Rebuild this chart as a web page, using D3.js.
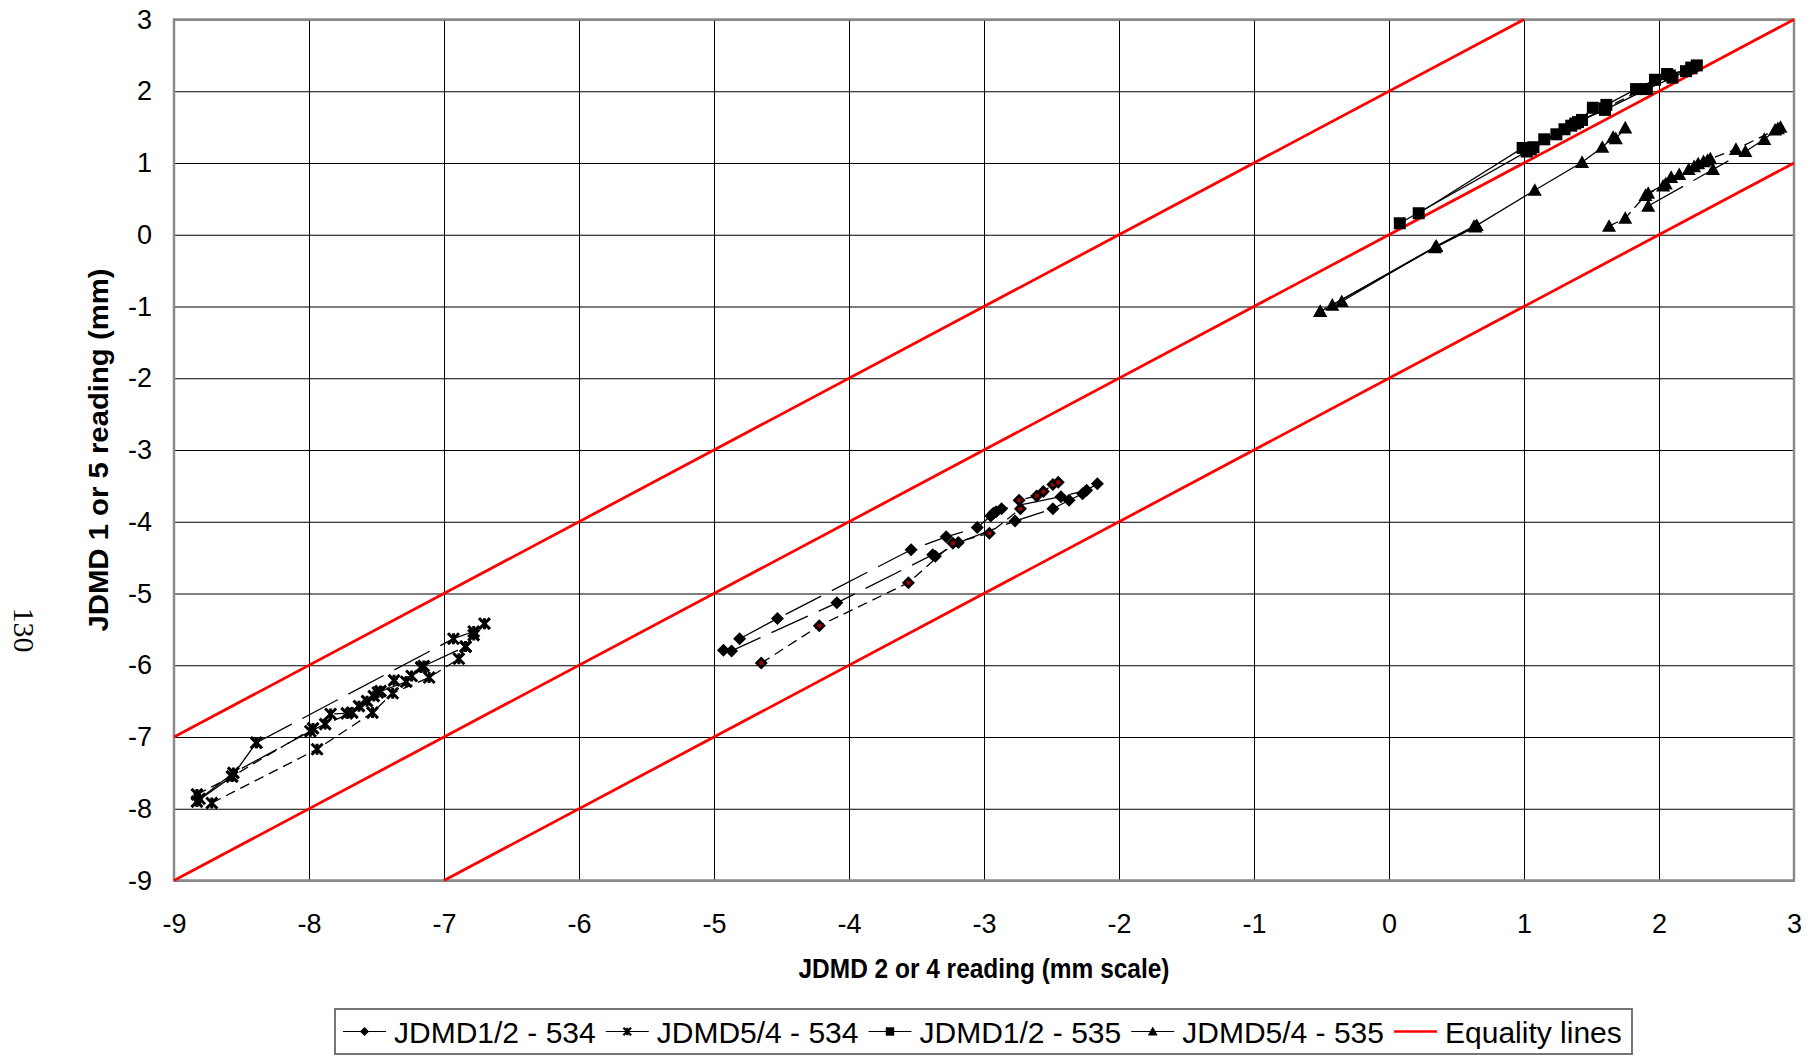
<!DOCTYPE html>
<html><head><meta charset="utf-8">
<script src="https://cdn.jsdelivr.net/npm/d3@7"></script>
<style>body{margin:0;background:#fff}</style></head>
<body><svg id="c" width="1819" height="1056"></svg>
<script>
// ---------------- data ----------------
const xTicks = [-9,-8,-7,-6,-5,-4,-3,-2,-1,0,1,2,3];
const yTicks = [-9,-8,-7,-6,-5,-4,-3,-2,-1,0,1,2,3];
const xTitle = "JDMD 2 or 4 reading (mm scale)";
const yTitle = "JDMD 1 or 5 reading (mm)";
const pageNumber = "130";
const seriesNames = ["JDMD1/2 - 534","JDMD5/4 - 534","JDMD1/2 - 535","JDMD5/4 - 535","Equality lines"];

// JDMD1/2 - 534 (diamonds)
const d12_534_runA = [[-4.81,-5.63],[-4.53,-5.35],[-3.54,-4.39],[-3.28,-4.21],[-3.05,-4.08],[-2.95,-3.92],[-2.93,-3.88],[-2.91,-3.86],[-2.87,-3.82],[-2.43,-3.65],[-2.24,-3.56],[-2.16,-3.47]];
const d12_534_runB = [[-4.93,-5.79],[-4.87,-5.80],[-4.09,-5.13],[-3.38,-4.46],[-3.36,-4.48],[-3.19,-4.29],[-2.77,-3.99],[-2.49,-3.82],[-2.37,-3.70],[-2.27,-3.61]];
const d12_534_runC = [[-4.65,-5.97],[-4.22,-5.45],[-3.56,-4.85],[-3.23,-4.30],[-2.96,-4.16],[-2.73,-3.82],[-2.74,-3.70],[-2.61,-3.64],[-2.56,-3.58],[-2.49,-3.48],[-2.45,-3.45]];

// JDMD5/4 - 534 (stars)
const s54_534_runA = [[-8.83,-7.90],[-8.57,-7.55],[-8.39,-7.08]];
const s54_534_runB = [[-8.39,-7.08],[-6.93,-5.63],[-6.78,-5.53],[-6.70,-5.42]];
const s54_534_runC = [[-8.81,-7.86],[-8.56,-7.50],[-7.99,-6.92],[-7.88,-6.82],[-7.68,-6.66],[-7.49,-6.38],[-7.28,-6.23],[-7.15,-6.01],[-6.84,-5.74],[-6.78,-5.58]];
const s54_534_runD = [[-8.72,-7.92],[-7.94,-7.17],[-7.53,-6.66],[-7.38,-6.39],[-7.11,-6.17],[-6.89,-5.91],[-6.84,-5.74]];
const s54_534_runE = [[-8.83,-7.80],[-8.57,-7.55],[-7.97,-6.88],[-7.84,-6.68],[-7.72,-6.67],[-7.63,-6.57],[-7.57,-6.50],[-7.52,-6.43],[-7.47,-6.36],[-7.37,-6.21],[-7.24,-6.15],[-7.17,-6.03]];

// JDMD1/2 - 535 (squares)
const q12_535_runA = [[0.08,0.16],[1.02,1.16],[1.15,1.33],[1.30,1.47],[1.43,1.60],[1.60,1.74],[1.91,2.03],[2.10,2.19],[2.28,2.36]];
const q12_535_runB = [[0.22,0.30],[0.99,1.21],[1.07,1.22],[1.24,1.40],[1.35,1.52],[1.40,1.57],[1.51,1.77],[1.61,1.81],[1.83,2.03],[1.97,2.16],[2.06,2.24],[2.20,2.28],[2.24,2.32]];
const q12_535_runC = [[1.05,1.19],[1.38,1.55],[1.60,1.76],[2.08,2.22],[2.24,2.33]];

// JDMD5/4 - 535 (triangles)
const t54_535_runA = [[-0.51,-1.07],[-0.42,-0.98],[0.35,-0.16],[0.65,0.13],[1.08,0.62],[1.43,1.01],[1.58,1.22],[1.66,1.36],[1.68,1.34],[1.75,1.49]];
const t54_535_runB = [[-0.35,-0.93],[0.35,-0.16],[0.63,0.12]];
const t54_535_runC = [[-0.51,-1.07],[0.34,-0.18],[0.64,0.11]];
const t54_535_runD = [[1.63,0.12],[1.75,0.23],[1.90,0.55],[2.03,0.68],[2.15,0.84],[2.26,0.95],[2.33,1.02],[2.38,1.06],[2.57,1.19],[2.86,1.46],[2.90,1.50]];
const t54_535_runE = [[1.92,0.40],[2.40,0.91],[2.64,1.16],[2.78,1.33],[2.88,1.48]];
const t54_535_runF = [[1.92,0.58],[2.05,0.71],[2.09,0.80],[2.22,0.91],[2.29,0.99],[2.36,1.04]];

// Equality lines (y = x + 2, y = x, y = x - 2), endpoints
const equalityLines = [[[-9,-7],[1,3]],[[-9,-9],[3,3]],[[-7,-9],[3,1]]];

// ---------------- trace table (data -> series/style) ----------------
const traces = [
  {s:0, pts:d12_534_runA, dash:"long"},
  {s:0, pts:d12_534_runB, dash:"long"},
  {s:0, pts:d12_534_runC, dash:"short", alt:true},
  {s:1, pts:s54_534_runA, dash:"solid"},
  {s:1, pts:s54_534_runB, dash:"long"},
  {s:1, pts:s54_534_runC, dash:"long"},
  {s:1, pts:s54_534_runD, dash:"short"},
  {s:1, pts:s54_534_runE, dash:"short"},
  {s:2, pts:q12_535_runA, dash:"solid"},
  {s:2, pts:q12_535_runB, dash:"solid"},
  {s:2, pts:q12_535_runC, dash:"short"},
  {s:3, pts:t54_535_runA, dash:"solid"},
  {s:3, pts:t54_535_runB, dash:"solid"},
  {s:3, pts:t54_535_runC, dash:"solid"},
  {s:3, pts:t54_535_runD, dash:"short"},
  {s:3, pts:t54_535_runE, dash:"long"},
  {s:3, pts:t54_535_runF, dash:"long"}
];

// ---------------- drawing ----------------
const FONT = "'Liberation Sans', Arial, sans-serif";
const plot = {left:174, right:1794, top:19.5, bottom:880.5};
const x = d3.scaleLinear().domain([-9,3]).range([plot.left, plot.right]);
const y = d3.scaleLinear().domain([-9,3]).range([plot.bottom, plot.top]);
const svg = d3.select('#c');
svg.append('rect').attr('width',1819).attr('height',1056).attr('fill','#fff');

// gridlines
const gx = svg.append('g').attr('transform',`translate(0,${plot.bottom})`)
  .call(d3.axisBottom(x).tickValues(xTicks).tickSize(-(plot.bottom-plot.top)).tickFormat(''));
gx.select('.domain').remove();
gx.selectAll('line').attr('stroke','#000').attr('stroke-width',1);
const gy = svg.append('g').attr('transform',`translate(${plot.left},0)`)
  .call(d3.axisLeft(y).tickValues(yTicks).tickSize(-(plot.right-plot.left)).tickFormat(''));
gy.select('.domain').remove();
gy.selectAll('line').attr('stroke','#000').attr('stroke-width',1);

// border
svg.append('rect').attr('x',plot.left).attr('y',plot.top)
  .attr('width',plot.right-plot.left).attr('height',plot.bottom-plot.top)
  .attr('fill','none').attr('stroke','#8a8a8a').attr('stroke-width',2.5);

// tick labels
const fmt = d => String(d).replace('\u2212','-');
const lx = svg.append('g').attr('transform',`translate(0,${plot.bottom})`)
  .call(d3.axisBottom(x).tickValues(xTicks).tickSize(0).tickPadding(33).tickFormat(fmt));
lx.select('.domain').remove();
lx.selectAll('text').attr('font-family',FONT).attr('font-size',27).attr('fill','#000');
const ly = svg.append('g').attr('transform',`translate(${plot.left},0)`)
  .call(d3.axisLeft(y).tickValues(yTicks).tickSize(0).tickPadding(22).tickFormat(fmt));
ly.select('.domain').remove();
ly.selectAll('text').attr('font-family',FONT).attr('font-size',27).attr('fill','#000');

// equality lines
const line = d3.line().x(d=>x(d[0])).y(d=>y(d[1]));
svg.append('g').selectAll('path').data(equalityLines).join('path')
  .attr('d',line).attr('fill','none').attr('stroke','#ff0000').attr('stroke-width',2.8);

// data lines
const dashes = {solid:null, long:"40,12", short:"10,6"};
svg.append('g').selectAll('path').data(traces).join('path')
  .attr('d',t=>line(t.pts)).attr('fill','none').attr('stroke','#000')
  .attr('stroke-width',1.3).attr('stroke-dasharray',t=>dashes[t.dash]);

// markers
function marker(sel, s, k, alt){
  if(s===0){
    const h=6.5*k;
    sel.append('path').attr('d',`M0,${-h}L${h},0L0,${h}L${-h},0Z`).attr('fill','#000');
    if(alt) sel.append('circle').attr('r',2.2*k).attr('fill','#a00000');
  } else if(s===1){
    const h=5.5*k;
    sel.append('path').attr('d',`M${-h},${-h}L${h},${h}M${h},${-h}L${-h},${h}M0,${-h}V${h}`)
      .attr('fill','none').attr('stroke','#000').attr('stroke-width',3*k);
  } else if(s===2){
    const h=6*k;
    sel.append('path').attr('d',`M${-h},${-h}H${h}V${h}H${-h}Z`).attr('fill','#000');
  } else if(s===3){
    const h=7*k;
    sel.append('path').attr('d',`M0,${-h}L${h},${h*0.8}L${-h},${h*0.8}Z`).attr('fill','#000');
  }
}
const mg = svg.append('g');
traces.forEach(t=>{
  t.pts.forEach(p=>{
    const g = mg.append('g').attr('transform',`translate(${x(p[0])},${y(p[1])})`);
    marker(g, t.s, 1, t.alt);
  });
});

// axis titles
svg.append('text').attr('x',(plot.left+plot.right)/2).attr('y',978)
  .attr('text-anchor','middle').attr('font-family',FONT).attr('font-weight','bold')
  .attr('font-size',27).attr('textLength',371).attr('lengthAdjust','spacingAndGlyphs').text(xTitle);
svg.append('text').attr('transform',`translate(108,${(plot.top+plot.bottom)/2}) rotate(-90)`)
  .attr('text-anchor','middle').attr('font-family',FONT).attr('font-weight','bold')
  .attr('font-size',28).attr('textLength',363).attr('lengthAdjust','spacingAndGlyphs').text(yTitle);
svg.append('text').attr('transform','translate(13.5,630) rotate(90)')
  .attr('text-anchor','middle').attr('font-family',"'Liberation Serif','Times New Roman',serif")
  .attr('font-size',30).text(pageNumber);

// legend
const lg = svg.append('g');
lg.append('rect').attr('x',335).attr('y',1009).attr('width',1297).attr('height',45)
  .attr('fill','#fff').attr('stroke','#666').attr('stroke-width',1.8);
let cx = 343; const ly0 = 1031.5;
seriesNames.forEach((name,i)=>{
  lg.append('line').attr('x1',cx).attr('x2',cx+43).attr('y1',ly0).attr('y2',ly0)
    .attr('stroke',i===4?'#ff0000':'#000').attr('stroke-width',i===4?2.5:1.2);
  if(i<4){
    const g = lg.append('g').attr('transform',`translate(${cx+21.5},${ly0})`);
    marker(g,i,0.7,false);
  }
  const t = lg.append('text').attr('x',cx+51).attr('y',ly0+11)
    .attr('font-family',FONT).attr('font-size',30).text(name);
  cx = cx + 51 + t.node().getComputedTextLength() + 10;
});
</script></body></html>
